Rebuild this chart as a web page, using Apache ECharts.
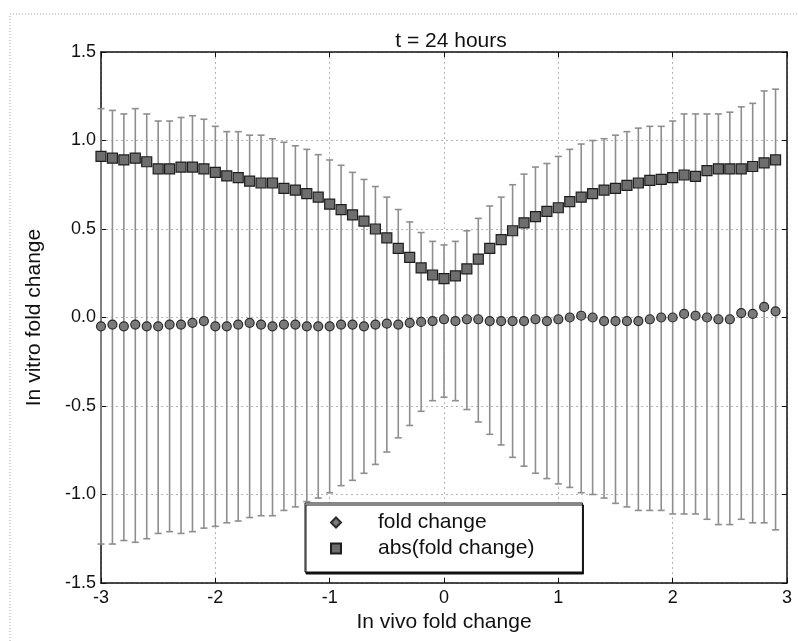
<!DOCTYPE html>
<html>
<head>
<meta charset="utf-8">
<script src="https://cdn.jsdelivr.net/npm/echarts@6/dist/echarts.min.js"></script>
<style>
  html, body { margin: 0; padding: 0; background: #fff; }
  #chart { width: 798px; height: 641px; }
</style>
</head>
<body>
<div id="chart"></div>
<script>
// in vivo fold change bins
var xVals = [-3.0, -2.9, -2.8, -2.7, -2.6, -2.5, -2.4, -2.3, -2.2, -2.1,
             -2.0, -1.9, -1.8, -1.7, -1.6, -1.5, -1.4, -1.3, -1.2, -1.1,
             -1.0, -0.9, -0.8, -0.7, -0.6, -0.5, -0.4, -0.3, -0.2, -0.1,
              0.0,  0.1,  0.2,  0.3,  0.4,  0.5,  0.6,  0.7,  0.8,  0.9,
              1.0,  1.1,  1.2,  1.3,  1.4,  1.5,  1.6,  1.7,  1.8,  1.9,
              2.0,  2.1,  2.2,  2.3,  2.4,  2.5,  2.6,  2.7,  2.8,  2.9];

// mean in vitro fold change
var foldChange = [-0.05, -0.04, -0.05, -0.04, -0.05, -0.05, -0.04, -0.04, -0.03, -0.02,
                  -0.05, -0.05, -0.04, -0.03, -0.04, -0.05, -0.04, -0.04, -0.05, -0.05,
                  -0.05, -0.04, -0.04, -0.05, -0.04, -0.035, -0.04, -0.03, -0.025, -0.02,
                  -0.01, -0.02, -0.01, -0.01, -0.02, -0.02, -0.02, -0.02, -0.01, -0.02,
                  -0.01, 0.00, 0.01, 0.00, -0.02, -0.02, -0.02, -0.02, -0.01, 0.00,
                   0.00, 0.02, 0.01, 0.00, -0.01, -0.01, 0.025, 0.02, 0.06, 0.035];

// error bar ends (upper / lower)
var errUpper = [1.18, 1.17, 1.15, 1.18, 1.15, 1.11, 1.11, 1.13, 1.14, 1.12,
                1.08, 1.05, 1.05, 1.03, 1.03, 1.01, 0.99, 0.97, 0.95, 0.92,
                0.89, 0.86, 0.82, 0.78, 0.74, 0.68, 0.61, 0.54, 0.48, 0.43,
                0.41, 0.43, 0.49, 0.56, 0.63, 0.68, 0.75, 0.81, 0.85, 0.87,
                0.91, 0.95, 0.98, 1.00, 1.01, 1.03, 1.05, 1.07, 1.08, 1.08,
                1.11, 1.15, 1.15, 1.15, 1.15, 1.16, 1.19, 1.21, 1.28, 1.29];
var errLower = [-1.28, -1.28, -1.26, -1.27, -1.25, -1.22, -1.21, -1.22, -1.21, -1.19,
                -1.18, -1.16, -1.15, -1.13, -1.12, -1.12, -1.09, -1.07, -1.04, -1.02,
                -0.99, -0.95, -0.92, -0.88, -0.83, -0.76, -0.68, -0.61, -0.53, -0.47,
                -0.45, -0.47, -0.52, -0.59, -0.66, -0.72, -0.79, -0.84, -0.88, -0.91,
                -0.94, -0.96, -0.99, -1.00, -1.02, -1.05, -1.07, -1.09, -1.09, -1.09,
                -1.11, -1.11, -1.11, -1.14, -1.17, -1.17, -1.14, -1.16, -1.16, -1.20];

// mean absolute fold change
var absFold = [0.91, 0.90, 0.89, 0.90, 0.88, 0.84, 0.84, 0.85, 0.85, 0.84,
               0.82, 0.80, 0.79, 0.77, 0.76, 0.76, 0.73, 0.72, 0.70, 0.68,
               0.64, 0.61, 0.58, 0.545, 0.50, 0.45, 0.39, 0.34, 0.28, 0.24,
               0.22, 0.235, 0.275, 0.33, 0.39, 0.44, 0.49, 0.535, 0.57, 0.60,
               0.62, 0.655, 0.68, 0.70, 0.72, 0.73, 0.746, 0.76, 0.775, 0.78,
               0.79, 0.805, 0.797, 0.83, 0.84, 0.84, 0.84, 0.853, 0.874, 0.89];

var FONT = 'Liberation Sans, Arial, Helvetica, sans-serif';

var errData = xVals.map(function (x, i) { return [x, errLower[i], errUpper[i]]; });
var foldData = xVals.map(function (x, i) { return [x, foldChange[i]]; });
var absData = xVals.map(function (x, i) { return [x, absFold[i]]; });

var myChart = echarts.init(document.getElementById('chart'));

var gridLine = { show: true, lineStyle: { color: '#b5b5b5', type: [2, 3], width: 1 } };

var option = {
  backgroundColor: '#fff',
  animation: false,
  title: {
    text: 't = 24 hours',
    left: 446,
    textAlign: 'center',
    top: 26,
    textStyle: { fontFamily: FONT, fontSize: 21, fontWeight: 'normal', color: '#111' }
  },
  graphic: [{
    type: 'rect',
    silent: true,
    shape: { x: 10, y: 14, width: 800, height: 640 },
    style: { fill: 'none', stroke: '#a8a8a8', lineWidth: 1, lineDash: [1, 2] }
  }],
  grid: { left: 101, right: 11, top: 52, bottom: 58 },
  legend: {
    orient: 'vertical',
    left: 305,
    top: 503,
    backgroundColor: '#fff',
    borderColor: '#111',
    borderWidth: 1,
    shadowColor: '#111',
    shadowOffsetX: 1,
    shadowOffsetY: 2,
    shadowBlur: 0,
    padding: [9, 48, 13, 25],
    itemGap: 5,
    itemWidth: 10,
    itemHeight: 10,
    textStyle: { fontFamily: FONT, fontSize: 21, color: '#111', padding: [0, 0, 0, 32] },
    data: [
      { name: 'fold change', icon: 'diamond' },
      { name: 'abs(fold change)', icon: 'rect' }
    ]
  },
  xAxis: [{
    type: 'value',
    min: -3, max: 3, interval: 1,
    name: 'In vivo fold change',
    nameLocation: 'middle',
    nameGap: 29,
    nameTextStyle: { fontFamily: FONT, fontSize: 21, color: '#111' },
    axisLine: { onZero: false, lineStyle: { color: '#111', width: 1.5 } },
    axisTick: { inside: true, length: 5, lineStyle: { color: '#111' } },
    axisLabel: { fontFamily: FONT, fontSize: 18, color: '#111', margin: 6 },
    splitLine: gridLine
  }, {
    type: 'value',
    position: 'top',
    min: -3, max: 3, interval: 1,
    axisLine: { onZero: false, lineStyle: { color: '#111', width: 1.5 } },
    axisTick: { inside: true, length: 5, lineStyle: { color: '#111' } },
    axisLabel: { show: false },
    splitLine: { show: false }
  }],
  yAxis: [{
    type: 'value',
    min: -1.5, max: 1.5, interval: 0.5,
    name: 'In vitro fold change',
    nameLocation: 'middle',
    nameGap: 56,
    nameTextStyle: { fontFamily: FONT, fontSize: 21, color: '#111' },
    axisLine: { onZero: false, lineStyle: { color: '#111', width: 1.5 } },
    axisTick: { inside: true, length: 5, lineStyle: { color: '#111' } },
    axisLabel: {
      fontFamily: FONT, fontSize: 18, color: '#111', margin: 5,
      formatter: function (v) { return v.toFixed(1); }
    },
    splitLine: gridLine
  }, {
    type: 'value',
    position: 'right',
    min: -1.5, max: 1.5, interval: 0.5,
    axisLine: { onZero: false, lineStyle: { color: '#111', width: 1.5 } },
    axisTick: { inside: true, length: 5, lineStyle: { color: '#111' } },
    axisLabel: { show: false },
    splitLine: { show: false }
  }],
  series: [
    {
      name: 'error',
      type: 'custom',
      z: 2,
      silent: true,
      renderItem: function (params, api) {
        var x = api.value(0);
        var top = api.coord([x, api.value(2)]);
        var bot = api.coord([x, api.value(1)]);
        var w = 3.5;
        var st = { stroke: '#8e8e8e', lineWidth: 1.6 };
        return {
          type: 'group',
          children: [
            { type: 'line', shape: { x1: top[0], y1: top[1], x2: bot[0], y2: bot[1] }, style: st },
            { type: 'line', shape: { x1: top[0] - w, y1: top[1], x2: top[0] + w, y2: top[1] }, style: st },
            { type: 'line', shape: { x1: bot[0] - w, y1: bot[1], x2: bot[0] + w, y2: bot[1] }, style: st }
          ]
        };
      },
      encode: { x: 0, y: [1, 2] },
      data: errData
    },
    {
      name: 'fold change',
      type: 'scatter',
      z: 3,
      symbol: 'circle',
      symbolSize: 9,
      itemStyle: { color: '#7a7a7a', borderColor: '#2a2a2a', borderWidth: 1.2, opacity: 1 },
      data: foldData
    },
    {
      name: 'abs(fold change)',
      type: 'scatter',
      z: 4,
      symbol: 'rect',
      symbolSize: 10,
      itemStyle: { color: '#6e6e6e', borderColor: '#1e1e1e', borderWidth: 1.2, opacity: 1 },
      data: absData
    }
  ]
};

myChart.setOption(option);
</script>
</body>
</html>
